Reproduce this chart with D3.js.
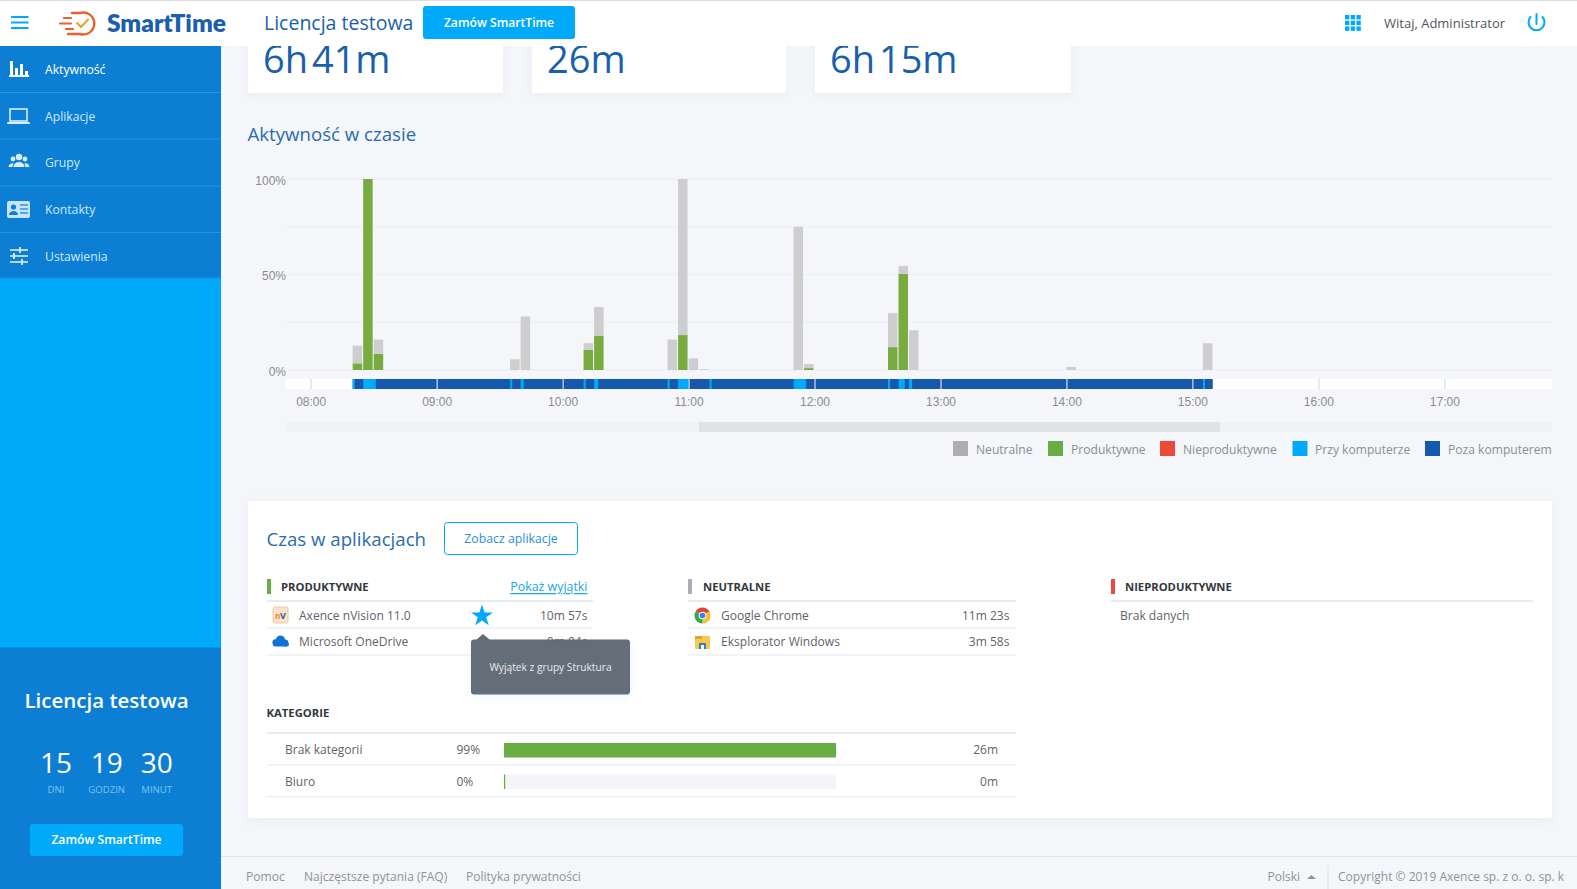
<!DOCTYPE html>
<html lang="pl">
<head>
<meta charset="utf-8">
<title>SmartTime</title>
<script src="https://cdn.jsdelivr.net/npm/d3@7"></script>
<style>
html,body{margin:0;padding:0;background:#f4f6fa;overflow:hidden}
svg{display:block}
text{font-family:"Open Sans",sans-serif}
.axis text{font-family:"Liberation Sans",Arial,sans-serif;font-size:12px;fill:#8c8c8c}
</style>
</head>
<body>
<div id="app"></div>
<script>
// ---- chart data ----
const binTimes = ["08:20","08:25","08:30","09:35","09:40","10:10","10:15","10:50","10:55","11:00","11:05","11:50","11:55","12:35","12:40","12:45","14:00","15:05"];
const productiveValues = [3.5,100,8.5,0,0,10.5,18,0,18.3,0,0,0,1,12,50.3,0,0,0];
const neutralValues = [9.2,0,7.4,5.6,28,3.6,15,15.9,81.7,6.1,0.4,75,2.1,17.8,4.2,20.8,1.6,14];
const hourLabels = ["08:00","09:00","10:00","11:00","12:00","13:00","14:00","15:00","16:00","17:00"];
const percentTicks = [0,50,100];
const gridTicks = [0,25,50,75,100];
const sessionStart = "08:20";
const sessionEnd = "15:09.7";
const atComputerStarts = ["08:20","08:25","09:35","09:40","10:10","10:15","10:50","10:55","11:10","11:50","12:35","12:40","12:45","15:05"];
const atComputerEnds = ["08:21","08:31","09:36","09:41.5","10:11","10:17","10:51","11:00","11:11","11:56","12:36","12:43","12:46.5","15:06"];
const legendLabels = ["Neutralne","Produktywne","Nieproduktywne","Przy komputerze","Poza komputerem"];
const legendColors = ["#aeaeae","#69ae45","#eb4a36","#00a9f9","#1558ac"];
const productiveApps = ["Axence nVision 11.0","Microsoft OneDrive"];
const productiveTimes = ["10m 57s","0m 04s"];
const neutralApps = ["Google Chrome","Eksplorator Windows"];
const neutralTimes = ["11m 23s","3m 58s"];
const categoryNames = ["Brak kategorii","Biuro"];
const categoryPercents = [99,0];
const categoryTimes = ["26m","0m"];
const cardValues = ["6h 41m","26m","6h 15m"];
const menuLabels = ["Aktywność","Aplikacje","Grupy","Kontakty","Ustawienia"];

// ---- helpers ----
const BLUE="#1a5fac", SKY="#00a9f9", SIDE="#0c7fd4", TXT="#5f6469";
const svg=d3.select("#app").append("svg").attr("width",1577).attr("height",889);
const rect=(g,x,y,w,h,f,r)=>g.append("rect").attr("x",x).attr("y",y).attr("width",w).attr("height",h).attr("fill",f).attr("rx",r||0);
const text=(g,s,x,y,size,fill,o={})=>g.append("text").text(s).attr("x",x).attr("y",y).attr("font-size",size).attr("fill",fill)
  .attr("text-anchor",o.anchor||"start").attr("font-weight",o.weight||400).attr("dominant-baseline","central")
  .style("font-family",o.family||null).style("text-decoration",o.deco||null).style("word-spacing",o.ws||null);
const line=(g,x1,x2,y,c,w)=>g.append("line").attr("x1",x1).attr("x2",x2).attr("y1",y).attr("y2",y).attr("stroke",c).attr("stroke-width",w||1);
const path=(g,d,o={})=>g.append("path").attr("d",d).attr("fill",o.fill||"none").attr("stroke",o.stroke||"none").attr("stroke-width",o.sw||1).attr("stroke-linecap",o.cap||"butt");

const shadow=svg.append("defs").append("filter").attr("id","sh").attr("x","-10%").attr("y","-10%").attr("width","120%").attr("height","130%");
shadow.append("feDropShadow").attr("dx",0).attr("dy",2).attr("stdDeviation",5).attr("flood-color","#8a97a8").attr("flood-opacity",.12);

rect(svg,0,0,1577,889,"#f4f6fa");

// ---- summary cards ----
const cards=svg.append("g");
[[248,255],[532,254],[815,256]].forEach(([x,w],i)=>{
  rect(cards,x,40,w,53,"#fff").attr("filter","url(#sh)");
  text(cards,cardValues[i],x+15,58,38,BLUE,{ws:"-6px"});
});

// ---- chart ----
const toDate=s=>{const [h,m]=s.split(":").map(Number);return new Date(2019,0,1,h,0,m*60);};
text(svg,"Aktywność w czasie",247.5,133.5,18.65,"#2a6bb0");
const x=d3.scaleTime().domain([toDate("08:00"),toDate("17:00")]).range([310.7,1444.3]);
const y=d3.scaleLinear().domain([0,100]).range([370,179]);
const plotLeft=286, plotRight=1552;
const grid=svg.append("g");
gridTicks.forEach(t=>line(grid,plotLeft,plotRight,y(t),"#eef1f5",2));

const stackRows=binTimes.map((t,i)=>({t,productive:productiveValues[i],neutral:neutralValues[i]}));
const stacked=d3.stack().keys(["productive","neutral"])(stackRows);
const barColors={productive:"#78ac41",neutral:"#cecece"};
const binEnd=t=>new Date(toDate(t).getTime()+5*60000);
svg.append("g").selectAll("g").data(stacked).join("g").attr("fill",d=>barColors[d.key])
  .selectAll("rect").data(d=>d).join("rect")
  .attr("x",d=>x(toDate(d.data.t)))
  .attr("width",d=>x(binEnd(d.data.t))-x(toDate(d.data.t))-1)
  .attr("y",d=>y(d[1]))
  .attr("height",d=>y(d[0])-y(d[1]));

const yAxis=d3.axisLeft(y).tickValues(percentTicks).tickSize(0).tickFormat(d=>d+"%");
svg.append("g").attr("class","axis").attr("transform",`translate(${plotLeft},0)`).call(yAxis)
  .call(g=>g.select(".domain").remove()).selectAll("text").attr("dx",3).attr("dy","0.55em").attr("y",-1.3);

// timeline strip
const stripY=379, stripH=10;
const strip=svg.append("g");
rect(strip,plotLeft,stripY,plotRight-plotLeft,stripH,"#fff");
rect(strip,x(toDate(sessionStart)),stripY,x(toDate(sessionEnd))-x(toDate(sessionStart)),stripH,legendColors[4]);
strip.append("g").selectAll("rect").data(atComputerStarts).join("rect")
  .attr("x",d=>x(toDate(d))).attr("y",stripY).attr("height",stripH)
  .attr("width",(d,i)=>x(toDate(atComputerEnds[i]))-x(toDate(d))).attr("fill",SKY);

const xAxis=d3.axisBottom(x).tickValues(hourLabels.map(toDate)).tickSize(stripH).tickFormat(d3.timeFormat("%H:%M")).tickPadding(8);
svg.append("g").attr("class","axis").attr("transform",`translate(0,${stripY})`).call(xAxis)
  .call(g=>g.select(".domain").remove())
  .call(g=>g.selectAll("line").attr("stroke","#d9dde4").attr("stroke-width",1.2));

// scrollbar
rect(svg,plotLeft,422,plotRight-plotLeft,10,"#f0f2f5");
rect(svg,699,422,521,10,"#dfe3e6");

// legend
const legendSwatchX=[953,1048,1160,1292.5,1425];
const legendTextX=[976,1071,1183,1315,1448];
const legend=svg.append("g");
legendLabels.forEach((l,i)=>{
  rect(legend,legendSwatchX[i],441,15,15,legendColors[i]);
  text(legend,l,legendTextX[i],449.5,12.1,"#8a8f94");
});

// ---- applications card ----
const card=svg.append("g");
rect(card,248,501,1304,317,"#fff").attr("filter","url(#sh)");
text(card,"Czas w aplikacjach",266.5,538,18.65,"#2a6bb0");
card.append("rect").attr("x",444.5).attr("y",522.5).attr("width",133).attr("height",32).attr("rx",3).attr("fill","#fff").attr("stroke",SKY);
text(card,"Zobacz aplikacje",511,538.5,12.3,"#2a8fd8",{anchor:"middle"});

function column(x0,x1,color,title,tx){
  rect(card,x0,579,4,15,color);
  text(card,title,tx,586.5,11.25,"#33383d",{weight:700});
  line(card,x0,x1,601,"#e5ebf1",2);
}
column(267,593,"#69ae45","PRODUKTYWNE",281);
column(688,1016,"#aeaeae","NEUTRALNE",703);
column(1111,1533,"#eb4a36","NIEPRODUKTYWNE",1125);
text(card,"Pokaż wyjątki",587.5,586.5,12.4,"#1ba3ee",{anchor:"end",deco:"underline"});
[628,655].forEach(yy=>{line(card,267,593,yy,"#e5ebf1");line(card,688,1016,yy,"#e5ebf1");});
const rowY=[615,641.5];
productiveApps.forEach((a,i)=>{
  text(card,a,299,rowY[i],12.05,TXT);
  text(card,productiveTimes[i],587.5,rowY[i],12.05,TXT,{anchor:"end"});
});
neutralApps.forEach((a,i)=>{
  text(card,a,721,rowY[i],12.05,TXT);
  text(card,neutralTimes[i],1009.5,rowY[i],12.05,TXT,{anchor:"end"});
});
text(card,"Brak danych",1120,615,12.05,TXT);

// app icons
rect(card,273,607,15,16,"#fbe3c8",2).attr("stroke","#e9c9a6");
text(card,"n",275,615,8,"#e8832c",{weight:700});
text(card,"V",280,615,9,"#2a5f9e",{weight:700});
[[276,642.5,3.6],[280.5,640,4.6],[285,643,3.4]].forEach(c=>card.append("circle").attr("cx",c[0]).attr("cy",c[1]).attr("r",c[2]).attr("fill","#0f72d4"));
rect(card,273,642.5,16,4,"#0f72d4",2);
const chrome=card.append("g").attr("transform","translate(702.5,615.5)");
const arc=d3.arc().innerRadius(0).outerRadius(8);
[["#e54335",-60,60],["#fbc02d",60,180],["#34a853",180,300]].forEach(([c,a,b])=>
  chrome.append("path").attr("d",arc({startAngle:a*Math.PI/180,endAngle:b*Math.PI/180})).attr("fill",c));
chrome.append("circle").attr("r",3.8).attr("fill","#fff");
chrome.append("circle").attr("r",2.8).attr("fill","#3f7fe8");
rect(card,695,636,15,13,"#fcc64f",1);
rect(card,695,636,7,3,"#e0a52d");
rect(card,699,643,7,6,"#2f7fd0");
rect(card,701,645,3,4,"#fff");

// star
const star=d3.symbol().type(d3.symbolStar).size(150);
card.append("path").attr("d",star()).attr("transform","translate(482,616)").attr("fill",SKY);

// tooltip
rect(card,471,639.5,159,55,"#5f6b75",3).attr("opacity",.97).attr("filter","url(#sh)");
path(card,"M476 640 L483 634 L490 640Z",{fill:"#5f6b75"});
text(card,"Wyjątek z grupy Struktura",550.5,667,10.2,"#e9ecef",{anchor:"middle"});

// categories
text(card,"KATEGORIE",266.5,712.5,11.3,"#33383d",{weight:700});
line(card,267,1016,733,"#e5ebf1",2);
const catY=[749.5,781];
const catX=d3.scaleLinear().domain([0,99]).range([504,836]);
categoryNames.forEach((n,i)=>{
  text(card,n,285,catY[i],12,TXT);
  text(card,categoryPercents[i]+"%",456.5,catY[i],12,TXT);
  rect(card,catX(0),catY[i]-6.5,catX(99)-catX(0),14.5,"#f3f5f9");
  rect(card,catX(0),catY[i]-6.5,Math.max(1.2,catX(categoryPercents[i])-catX(0)),14.5,"#69ae45");
  text(card,categoryTimes[i],998,catY[i],12,TXT,{anchor:"end"});
});
line(card,267,1016,765,"#e5ebf1");
line(card,267,1016,796.5,"#e5ebf1");

// ---- footer ----
const foot=svg.append("g");
rect(foot,221,857,1356,32,"#f4f6fa");
line(foot,221,1577,856.5,"#dde3ea");
const fc="#8f9499";
text(foot,"Pomoc",246,876.5,12.05,fc);
text(foot,"Najczęstsze pytania (FAQ)",304,876.5,12.05,fc);
text(foot,"Polityka prywatności",466,876.5,12.05,fc);
text(foot,"Polski",1267.5,876.5,12.05,fc);
path(foot,"M1307 879 L1311.5 875 L1316 879Z",{fill:"#8f9499"});
foot.append("line").attr("x1",1328).attr("x2",1328).attr("y1",865).attr("y2",889).attr("stroke","#dde3ea");
text(foot,"Copyright © 2019 Axence sp. z o. o. sp. k",1338,876.5,12.05,fc);

// ---- header ----
const head=svg.append("g");
rect(head,0,0,1577,46,"#fff");
rect(head,0,0,1577,1,"#dedede");
[17,22.5,28].forEach(yy=>line(head,11,28.5,yy,SKY,2));
const orange="#e8622c";
path(head,"M72 13 H80 A11 11 0 1 1 80 34 H68",{stroke:orange,sw:2.4,cap:"round"});
path(head,"M60 23.5 H71 M64 18 H71 M66 29 H73",{stroke:orange,sw:2.2,cap:"round"});
path(head,"M77 23 L81 27 L88 19.5",{stroke:"#e8a02c",sw:2,cap:"round"});
text(head,"SmartTime",107,22.5,24.5,BLUE,{weight:800,family:"Lato"});
text(head,"Licencja testowa",264,22.5,19.5,BLUE);
rect(head,423,6,152,33,SKY,3);
text(head,"Zamów SmartTime",499,22.5,12.15,"#fff",{anchor:"middle",weight:600});
d3.range(3).forEach(r=>d3.range(3).forEach(c=>rect(head,1345+c*5.7,15+r*5.7,4.4,4.4,SKY)));
text(head,"Witaj, Administrator",1384,23,13,"#50565c");
path(head,"M1530.5 17 A8 8 0 1 0 1542.5 17",{stroke:SKY,sw:2,cap:"round"});
path(head,"M1536.5 14 V24",{stroke:SKY,sw:2,cap:"round"});

// ---- sidebar ----
const side=svg.append("g");
rect(side,0,46,221,843,SIDE);
rect(side,0,278.5,221,369,SKY);
const menuY=[69,116,162.5,209,256];
menuLabels.forEach((m,i)=>{
  text(side,m,45,menuY[i],12.2,i===0?"#ffffff":"#cfe9fb");
  line(side,0,221,[92.5,139,186,232.5,278][i],"#1f97e6",1);
});
const ic=side.append("g");
[[10,61,3,16],[15,68,3,9],[20,64,3,13],[25,71,3,6]].forEach(b=>rect(ic,b[0],b[1],b[2],b[3],"#fff"));
rect(ic,9,75,20,2,"#fff");
const ic2=side.append("g");
ic2.append("rect").attr("x",10).attr("y",109).attr("width",17).attr("height",12).attr("fill","none").attr("stroke","#d8eefc").attr("stroke-width",1.6);
rect(ic2,7,122,23,2,"#d8eefc",1);
const gr=side.append("g").attr("fill","#d8eefc");
[[19,157,3.2],[13,159,2.4],[25,159,2.4]].forEach(c=>gr.append("circle").attr("cx",c[0]).attr("cy",c[1]).attr("r",c[2]));
path(gr,"M13.5 167 a5.5 5 0 0 1 11 0z",{fill:"#d8eefc"});
path(gr,"M8.5 167 a4 4 0 0 1 5-3.5 l-1 3.5z M29.5 167 a4 4 0 0 0 -5 -3.5 l1 3.5z",{fill:"#d8eefc"});
rect(side,7,201,23,17,"#c6e5fa",2);
side.append("circle").attr("cx",13.5).attr("cy",207).attr("r",2.6).attr("fill",SIDE);
path(side,"M9 215 a4.5 4 0 0 1 9 0z",{fill:SIDE});
[205,209,213].forEach(yy=>line(side,20,28,yy,SIDE,1.2));
[[250,10,28,20],[256,10,28,14],[262,10,28,22]].forEach(a=>{
  line(side,a[1],a[2],a[0],"#d8eefc",1.6);
  side.append("line").attr("x1",a[3]).attr("x2",a[3]).attr("y1",a[0]-3).attr("y2",a[0]+3).attr("stroke","#d8eefc").attr("stroke-width",1.8);
});
// licence box
text(side,"Licencja testowa",106.5,700,20.5,"#fff",{anchor:"middle",weight:600});
const cdCentre=[56,106.7,156.7], cdNum=["15","19","30"], cdLab=["DNI","GODZIN","MINUT"];
cdNum.forEach((n,i)=>{
  text(side,n,cdCentre[i],762,28,"#fff",{anchor:"middle"});
  text(side,cdLab[i],cdCentre[i],789,9.6,"#79c4f3",{anchor:"middle"});
});
rect(side,30,824,153,32,SKY,3);
text(side,"Zamów SmartTime",106.5,839.5,12.15,"#fff",{anchor:"middle",weight:600});
</script>
</body>
</html>
